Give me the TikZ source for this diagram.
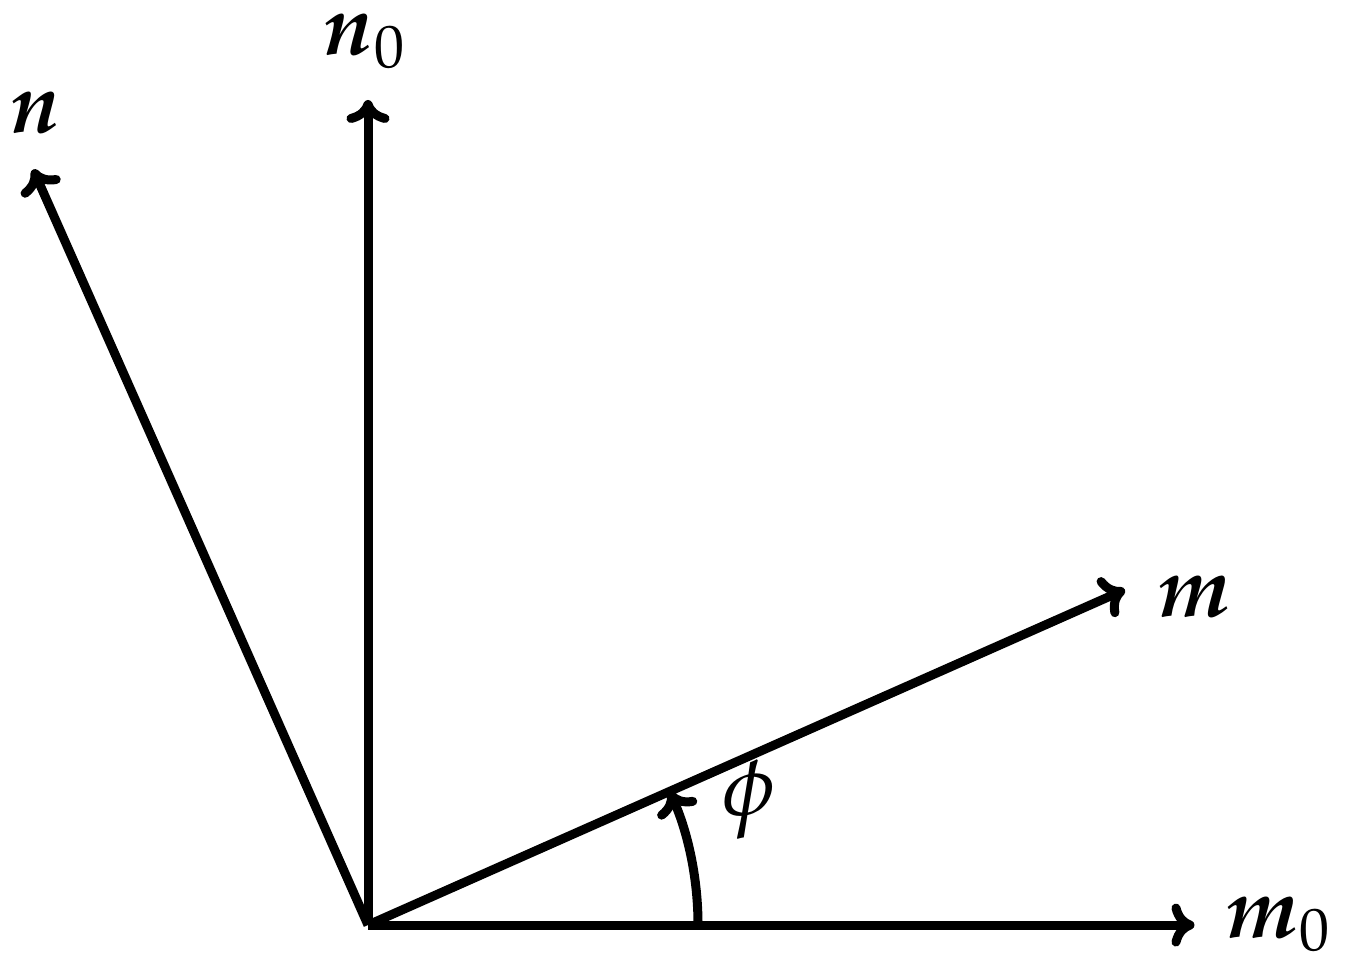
\documentclass[tikz,border=0pt]{standalone}
\usepackage{amsmath}
\usepackage{mathpazo}
\usepackage{tikz}
\usetikzlibrary{arrows.meta}

\begin{document}
\begin{tikzpicture}[
  vec/.style={line width=1.8pt,-{Computer Modern Rightarrow[length=4.6pt,width=8.6pt]}},
  lbl/.style={anchor=base,inner sep=0pt,font=\LARGE}]

\useasboundingbox (-2.587,-0.330) rectangle (6.868,6.503);

\coordinate (O) at (0, 0);
\coordinate (m_0) at (5.81, 0);
\coordinate (n_0) at (0, 5.80);
\coordinate (m) at (23.9:5.82);
\coordinate (n) at (113.9:5.81);
\coordinate (a) at (2.32, 0);

\draw[vec] (O)--(m_0);
\draw[vec] (O)--(n_0);
\draw[vec] (O)--(m);
\draw[vec] (O)--(n);
\draw[vec] (a) arc[start angle=0, end angle=23.9, radius=2.32];

\node[lbl] (lm_0) at (6.40, -0.09) {$\boldsymbol{m}_0$};
\node[lbl] (ln_0) at (-0.02, 6.12) {$\boldsymbol{n}_0$};
\node[lbl] (lm) at (5.81, 2.17) {$\boldsymbol{m}$};
\node[lbl] (ln) at (-2.34, 5.57) {$\boldsymbol{n}$};
\node[lbl] (lphi) at (2.68, 0.77) {$\phi$};

\end{tikzpicture}
\end{document}
